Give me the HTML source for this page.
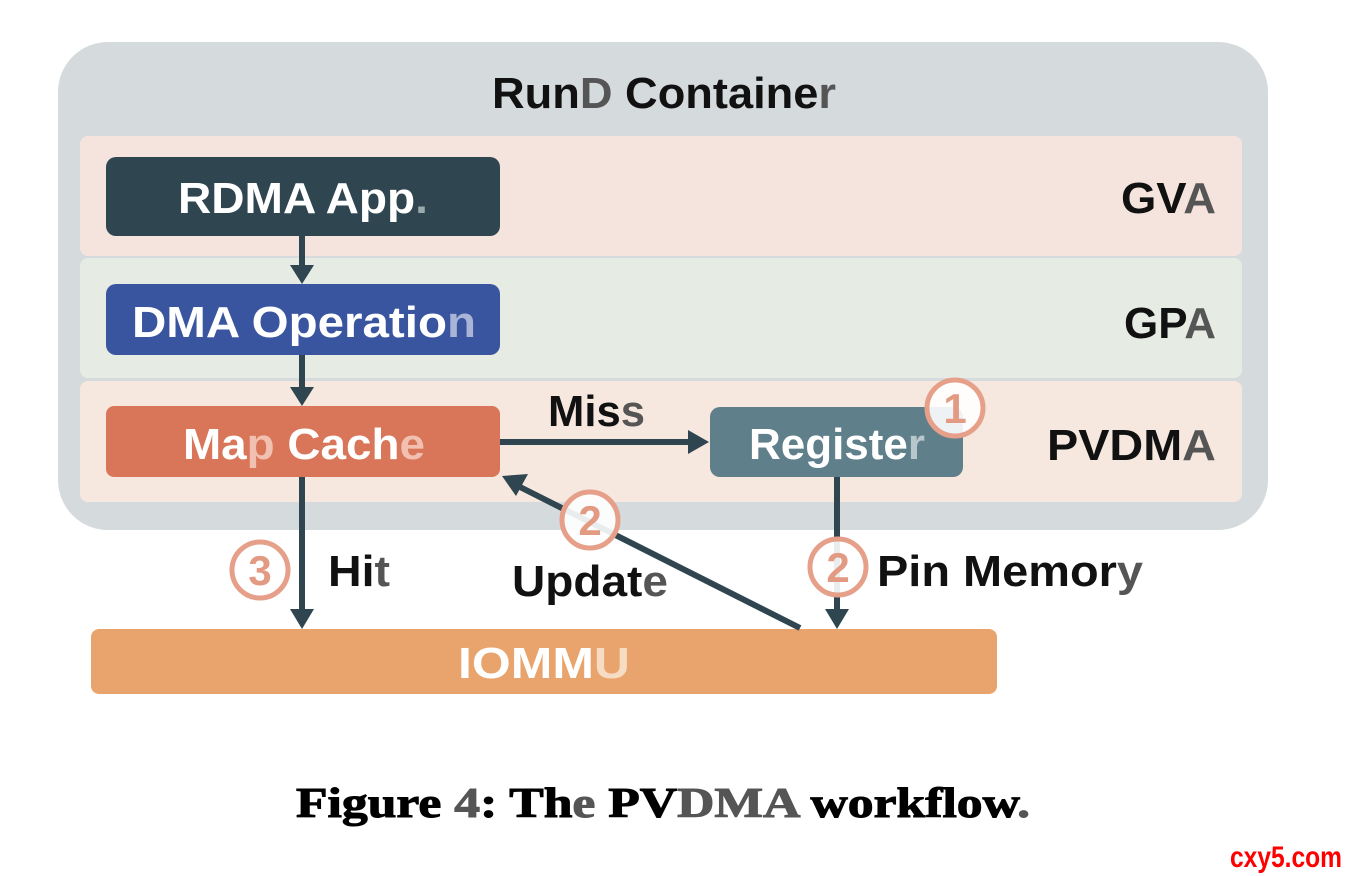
<!DOCTYPE html>
<html><head><meta charset="utf-8"><style>
html,body{margin:0;padding:0;background:#fff;}
svg{display:block;}
.s{font-family:"Liberation Sans","DejaVu Sans",sans-serif;font-weight:bold;}
.g{fill:#555;}
</style></head><body>
<svg width="1348" height="876" viewBox="0 0 1348 876" xmlns="http://www.w3.org/2000/svg">
<rect x="58" y="42" width="1210" height="488" rx="50" fill="#d5dadd"/>
<text class="s" x="492" y="108" font-size="44" textLength="344" lengthAdjust="spacingAndGlyphs" fill="#111">Run<tspan class="g">D</tspan> Containe<tspan class="g">r</tspan></text>
<rect x="80" y="136" width="1162" height="120" rx="8" fill="#f5e4de"/>
<rect x="80" y="258" width="1162" height="120" rx="8" fill="#e6ece3"/>
<rect x="80" y="381" width="1162" height="121" rx="8" fill="#f7e8df"/>
<text class="s" x="1121" y="213" font-size="44" textLength="95" lengthAdjust="spacingAndGlyphs" fill="#111">GV<tspan class="g">A</tspan></text>
<text class="s" x="1124" y="338" font-size="44" textLength="92" lengthAdjust="spacingAndGlyphs" fill="#111">GP<tspan class="g">A</tspan></text>
<text class="s" x="1047" y="460" font-size="44" textLength="169" lengthAdjust="spacingAndGlyphs" fill="#111">PVDM<tspan class="g">A</tspan></text>

<rect x="106" y="157" width="394" height="79" rx="10" fill="#2f4550"/>
<text class="s" x="178" y="213" font-size="44" textLength="250" lengthAdjust="spacingAndGlyphs" fill="#fff">RDMA App<tspan fill="#9aa">.</tspan></text>
<rect x="106" y="284" width="394" height="71" rx="10" fill="#3a55a0"/>
<text class="s" x="132" y="337" font-size="44" textLength="344" lengthAdjust="spacingAndGlyphs" fill="#fff">DMA Operatio<tspan fill="#a9b4d6">n</tspan></text>
<rect x="106" y="406" width="394" height="71" rx="8" fill="#d9765a"/>
<text class="s" x="183" y="459" font-size="44" textLength="242" lengthAdjust="spacingAndGlyphs" fill="#fff">Ma<tspan fill="#f2c0b0">p</tspan> Cach<tspan fill="#f2c0b0">e</tspan></text>
<rect x="710" y="407" width="253" height="70" rx="10" fill="#5f7f8b"/>
<text class="s" x="749" y="459" font-size="44" textLength="176" lengthAdjust="spacingAndGlyphs" fill="#fff">Registe<tspan fill="#b8c7cc">r</tspan></text>
<rect x="91" y="629" width="906" height="65" rx="8" fill="#e8a46c"/>
<text class="s" x="458" y="678" font-size="44" textLength="172" lengthAdjust="spacingAndGlyphs" fill="#fff">IOMM<tspan fill="#f7dcc4">U</tspan></text>

<g stroke="#2f4550" stroke-width="6" fill="none">
<line x1="302" y1="236" x2="302" y2="268"/>
<line x1="302" y1="355" x2="302" y2="390"/>
<line x1="302" y1="477" x2="302" y2="612"/>
<line x1="500" y1="442" x2="690" y2="442"/>
<line x1="837" y1="477" x2="837" y2="612"/>
<line x1="800" y1="628" x2="520" y2="487"/>
</g>
<g fill="#2f4550">
<polygon points="290,265 314,265 302,284"/>
<polygon points="290,387 314,387 302,406"/>
<polygon points="290,609 314,609 302,629"/>
<polygon points="688,430 688,454 709,442"/>
<polygon points="825,609 849,609 837,629"/>
<polygon points="502,476 528,474 516,496"/>
</g>

<g stroke="#e6a08a" stroke-width="5" fill="#fff" fill-opacity="0.9">
<circle cx="955" cy="408" r="28"/>
<circle cx="590" cy="520" r="28"/>
<circle cx="838" cy="567" r="28"/>
<circle cx="260" cy="570" r="28"/>
</g>
<g class="s" font-size="42" fill="#e39a82" text-anchor="middle">
<text x="955" y="423">1</text>
<text x="590" y="535">2</text>
<text x="838" y="582">2</text>
<text x="260" y="585">3</text>
</g>

<text class="s" x="548" y="426" font-size="44" textLength="97" lengthAdjust="spacingAndGlyphs" fill="#111">Mis<tspan class="g">s</tspan></text>
<text class="s" x="328" y="586" font-size="44" textLength="62" lengthAdjust="spacingAndGlyphs" fill="#111">Hi<tspan class="g">t</tspan></text>
<text class="s" x="512" y="596" font-size="44" textLength="156" lengthAdjust="spacingAndGlyphs" fill="#111">Updat<tspan class="g">e</tspan></text>
<text class="s" x="877" y="586" font-size="44" textLength="266" lengthAdjust="spacingAndGlyphs" fill="#111">Pin Memor<tspan class="g">y</tspan></text>

<text x="296" y="817" font-family="'Liberation Serif','DejaVu Serif',serif" font-weight="bold" font-size="42" textLength="734" lengthAdjust="spacingAndGlyphs" fill="#000" stroke="#000" stroke-width="1">Figure <tspan class="g" stroke="#555">4</tspan>: Th<tspan class="g" stroke="#555">e</tspan> PV<tspan class="g" stroke="#555">DMA</tspan> workflow<tspan class="g" stroke="#555">.</tspan></text>
<text x="1230" y="867" font-family="'Liberation Sans Narrow','Liberation Sans',sans-serif" font-weight="bold" font-size="30" textLength="112" lengthAdjust="spacingAndGlyphs" fill="#ff0000">cxy5.com</text>
</svg>
</body></html>
